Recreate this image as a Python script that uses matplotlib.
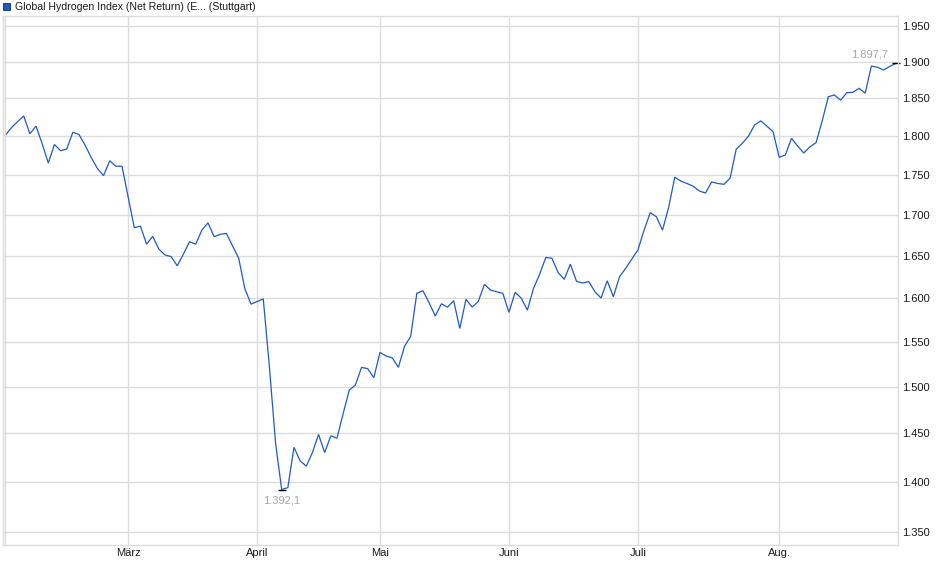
import matplotlib
matplotlib.use("Agg")
import matplotlib.pyplot as plt
import matplotlib.ticker as mticker
import pandas as pd
import numpy as np

# ---- data -------------------------------------------------------------
series_name = "Global Hydrogen Index (Net Return) (E... (Stuttgart)"
start_date = "2025-02-03"
end_date = "2025-08-28"
holidays = ["2025-04-18", "2025-04-21", "2025-05-01"]

values = [
    1801, 1811, 1819, 1826.5, 1803, 1813, 1790, 1765, 1789, 1781,
    1783, 1805, 1802, 1788, 1772, 1758, 1749, 1768, 1761, 1761,
    1722, 1684, 1686, 1664, 1673.5, 1658, 1651, 1649, 1638, 1652,
    1667, 1664, 1681, 1690, 1673, 1676, 1677, 1662, 1647, 1611,
    1593, 1596, 1599, 1522, 1440, 1392.1, 1394, 1435.5, 1421.5, 1416,
    1430, 1449, 1430, 1447.6, 1445, 1471, 1496.5, 1502, 1521.4, 1520,
    1510, 1538, 1534, 1532, 1521.4, 1545, 1556, 1605.6, 1608.6, 1594.6,
    1579.3, 1593.4, 1589.5, 1597, 1565, 1598.6, 1589.6, 1596, 1616, 1609.4,
    1607.4, 1605.6, 1583.5, 1606.7, 1600, 1586, 1611.4, 1628, 1648, 1647,
    1630, 1622, 1640, 1619.6, 1617.6, 1619.3, 1607.4, 1600, 1620.3, 1601.6,
    1625, 1635, 1646, 1657, 1681, 1702.5, 1697.5, 1681, 1709, 1747,
    1742, 1739, 1735.5, 1729.5, 1727, 1741, 1739, 1738, 1745.6, 1783,
    1790.6, 1800, 1814.6, 1820, 1813, 1805.7, 1772.4, 1775.4, 1797, 1787,
    1778, 1786, 1791.4, 1820, 1852.3, 1854.6, 1847.5, 1857.7, 1858.2, 1863.6,
    1857, 1894, 1892.3, 1888.6, 1893.6, 1897.7,
]

month_labels = ["März", "April", "Mai", "Juni", "Juli", "Aug."]
y_ticks = [1350, 1400, 1450, 1500, 1550, 1600, 1650, 1700, 1750, 1800, 1850, 1900, 1950]
y_limits = (1337.1, 1964.2)

# ---- derived ------------------------------------------------------------
dates = pd.bdate_range(start_date, end_date)
dates = dates[~dates.isin(pd.to_datetime(holidays))]
idx = np.arange(len(values))
dates = dates[: len(values)]
months = dates.to_period("M")
month_starts = [i for i in range(1, len(dates)) if months[i] != months[i - 1]]

def de_fmt(v, pos=None):
    return f"{v:,.0f}".replace(",", ".")

def de_fmt1(v):
    s = f"{v:,.1f}"
    return s.replace(",", "X").replace(".", ",").replace("X", ".")

# ---- figure -------------------------------------------------------------
plt.rcParams["font.family"] = ["Liberation Sans", "DejaVu Sans"]
fig = plt.figure(figsize=(9.4, 5.79), dpi=100)
W, H = 940, 579
ax = fig.add_axes([3 / W, (H - 545) / H, (898.3 - 3) / W, (545 - 16) / H])

grid_c = "#dcdcdc"
line_c = "#1f5bc4"
label_c = "#a9a6a2"

ax.plot(idx, values, color=line_c, lw=0.9, solid_joinstyle="miter")

ax.set_yscale("log")
ax.set_ylim(*y_limits)
ax.set_xlim(-0.374, len(values) - 1 + 0.39)

ax.yaxis.set_major_locator(mticker.FixedLocator(y_ticks))
ax.yaxis.set_major_formatter(mticker.FuncFormatter(de_fmt))
ax.yaxis.set_minor_locator(mticker.NullLocator())
ax.yaxis.tick_right()
ax.tick_params(axis="y", length=0, pad=3, labelsize=8, colors="#1a1a1a")

ax.set_xticks(month_starts)
ax.set_xticklabels(month_labels[: len(month_starts)])
ax.tick_params(axis="x", length=0, pad=2, labelsize=8, colors="#1a1a1a")

ax.grid(True, color=grid_c, lw=1)
ax.axvline(idx[0], color=grid_c, lw=1)
for s in ax.spines.values():
    s.set_color(grid_c)
    s.set_linewidth(1)
ax.set_axisbelow(True)

# min / last markers
imin = int(np.argmin(values))
ilast = len(values) - 1
ax.plot([imin], [values[imin]], marker="_", ms=6, mew=1, color="black", clip_on=False)
ax.plot([ilast], [values[ilast]], marker="_", ms=6, mew=1, color="black", clip_on=False)
ax.annotate(de_fmt1(values[imin]), (imin, values[imin]), xytext=(0, -11),
            textcoords="offset pixels", ha="center", va="center",
            fontsize=8, color=label_c)
ax.annotate(de_fmt1(values[ilast]), (ilast, values[ilast]), xytext=(-8, 9),
            textcoords="offset pixels", ha="right", va="center",
            fontsize=8, color=label_c)

# legend-like title
fig.patches.append(plt.Rectangle((3 / W, (H - 10) / H), 7 / W, 7 / H,
                                 transform=fig.transFigure, facecolor=line_c,
                                 edgecolor="#0d2a66", lw=0.6))
fig.text(15 / W, (H - 7) / H, series_name, fontsize=7.6, color="#1a1a1a",
         ha="left", va="center")

fig.savefig("out.png", dpi=100)
